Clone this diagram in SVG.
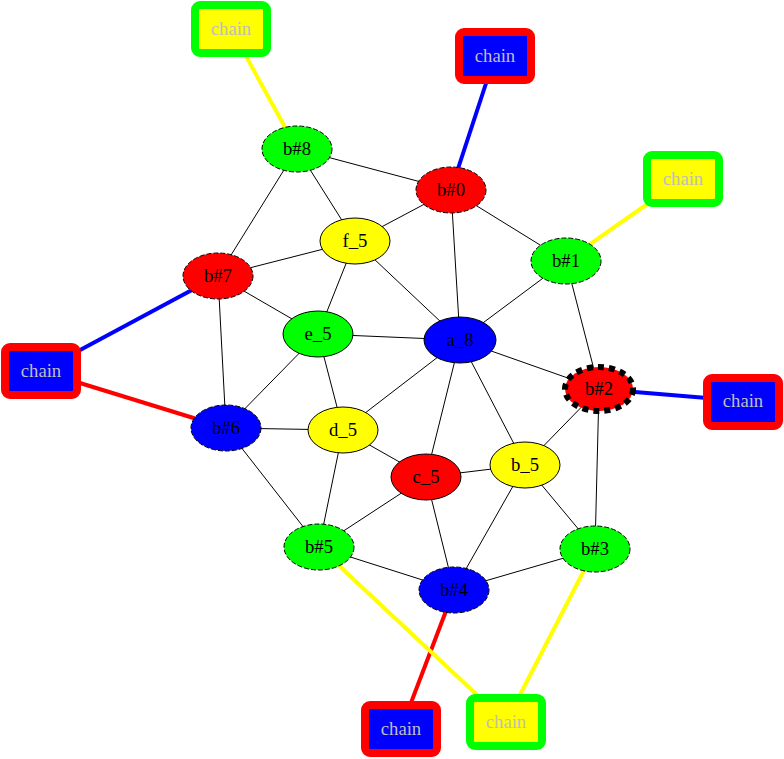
<svg xmlns="http://www.w3.org/2000/svg" width="784" height="759" viewBox="0 0 784 759">
<style>
.e{stroke:#000;stroke-width:1;fill:none}
.n ellipse{stroke:#000;stroke-width:1}
.d ellipse{stroke-dasharray:5,2}
.n text{font-family:"Liberation Serif",serif;font-size:18.67px;text-anchor:middle;fill:#000}
.c rect{stroke-width:8}
.c text{font-family:"Liberation Serif",serif;font-size:18.67px;text-anchor:middle;fill:#bebebe}
.cy{stroke:#ffff00;stroke-width:4;fill:none}
.cb{stroke:#0000ff;stroke-width:4;fill:none}
.cr{stroke:#ff0000;stroke-width:4;fill:none}
</style>
<rect width="784" height="759" fill="#fff"/>
<g id="connectors">
<line class="cy" x1="231" y1="29" x2="297" y2="149"/>
<line class="cb" x1="495" y1="56" x2="451" y2="190"/>
<line class="cy" x1="683" y1="179" x2="566" y2="261"/>
<line class="cb" x1="41" y1="371" x2="218" y2="276"/>
<line class="cr" x1="41" y1="371" x2="226" y2="428"/>
<line class="cb" x1="743" y1="401" x2="599" y2="389"/>
<line class="cr" x1="401" y1="729" x2="454" y2="590"/>
<line class="cy" x1="506" y1="722" x2="319" y2="547"/>
<line class="cy" x1="506" y1="722" x2="595" y2="549"/>
<line class="e" x1="297" y1="149" x2="451" y2="190"/>
<line class="e" x1="297" y1="149" x2="355" y2="241"/>
<line class="e" x1="297" y1="149" x2="218" y2="276"/>
<line class="e" x1="451" y1="190" x2="355" y2="241"/>
<line class="e" x1="451" y1="190" x2="566" y2="261"/>
<line class="e" x1="451" y1="190" x2="460" y2="340"/>
<line class="e" x1="355" y1="241" x2="218" y2="276"/>
<line class="e" x1="355" y1="241" x2="318" y2="334"/>
<line class="e" x1="355" y1="241" x2="460" y2="340"/>
<line class="e" x1="566" y1="261" x2="460" y2="340"/>
<line class="e" x1="566" y1="261" x2="599" y2="389"/>
<line class="e" x1="218" y1="276" x2="318" y2="334"/>
<line class="e" x1="218" y1="276" x2="226" y2="428"/>
<line class="e" x1="318" y1="334" x2="460" y2="340"/>
<line class="e" x1="318" y1="334" x2="226" y2="428"/>
<line class="e" x1="318" y1="334" x2="343" y2="430"/>
<line class="e" x1="460" y1="340" x2="599" y2="389"/>
<line class="e" x1="460" y1="340" x2="343" y2="430"/>
<line class="e" x1="460" y1="340" x2="426" y2="477"/>
<line class="e" x1="460" y1="340" x2="525" y2="465"/>
<line class="e" x1="599" y1="389" x2="525" y2="465"/>
<line class="e" x1="599" y1="389" x2="595" y2="549"/>
<line class="e" x1="226" y1="428" x2="343" y2="430"/>
<line class="e" x1="226" y1="428" x2="319" y2="547"/>
<line class="e" x1="343" y1="430" x2="426" y2="477"/>
<line class="e" x1="343" y1="430" x2="319" y2="547"/>
<line class="e" x1="426" y1="477" x2="525" y2="465"/>
<line class="e" x1="426" y1="477" x2="319" y2="547"/>
<line class="e" x1="426" y1="477" x2="454" y2="590"/>
<line class="e" x1="525" y1="465" x2="454" y2="590"/>
<line class="e" x1="525" y1="465" x2="595" y2="549"/>
<line class="e" x1="319" y1="547" x2="454" y2="590"/>
<line class="e" x1="595" y1="549" x2="454" y2="590"/>
</g>
<g id="chain1" class="c"><rect x="195" y="5" width="72" height="48" rx="5" fill="#ffff00" stroke="#00ff00"/><text x="231" y="35">chain</text></g>
<g id="chain2" class="c"><rect x="459" y="32" width="72" height="48" rx="5" fill="#0000ff" stroke="#ff0000"/><text x="495" y="62">chain</text></g>
<g id="chain3" class="c"><rect x="647" y="155" width="72" height="48" rx="5" fill="#ffff00" stroke="#00ff00"/><text x="683" y="185">chain</text></g>
<g id="chain4" class="c"><rect x="5" y="347" width="72" height="48" rx="5" fill="#0000ff" stroke="#ff0000"/><text x="41" y="377">chain</text></g>
<g id="chain5" class="c"><rect x="707" y="378" width="72" height="48" rx="5" fill="#0000ff" stroke="#ff0000"/><text x="743" y="407">chain</text></g>
<g id="chain6" class="c"><rect x="365" y="705" width="72" height="48" rx="5" fill="#0000ff" stroke="#ff0000"/><text x="401" y="735">chain</text></g>
<g id="chain7" class="c"><rect x="470" y="698" width="72" height="48" rx="5" fill="#ffff00" stroke="#00ff00"/><text x="506" y="728">chain</text></g>
<g id="b8" class="n d"><ellipse cx="297" cy="149" rx="35" ry="23" fill="#00ff00"/><text x="297" y="155">b#8</text></g>
<g id="b0" class="n d"><ellipse cx="451" cy="190" rx="35" ry="23" fill="#ff0000"/><text x="451" y="196">b#0</text></g>
<g id="f5" class="n"><ellipse cx="355" cy="241" rx="35" ry="23" fill="#ffff00"/><text x="355" y="247">f_5</text></g>
<g id="b1" class="n d"><ellipse cx="566" cy="261" rx="35" ry="23" fill="#00ff00"/><text x="566" y="267">b#1</text></g>
<g id="b7" class="n d"><ellipse cx="218" cy="276" rx="35" ry="23" fill="#ff0000"/><text x="218" y="282">b#7</text></g>
<g id="e5" class="n"><ellipse cx="318" cy="334" rx="35" ry="23" fill="#00ff00"/><text x="318" y="340">e_5</text></g>
<g id="a8" class="n"><ellipse cx="460" cy="340" rx="36" ry="23" fill="#0000ff"/><text x="460" y="346">a_8</text></g>
<g id="b2" class="n"><ellipse cx="599" cy="389" rx="34" ry="22" fill="#ff0000" style="stroke-width:6;stroke-dasharray:6,5"/><text x="599" y="395">b#2</text></g>
<g id="b6" class="n d"><ellipse cx="226" cy="428" rx="35" ry="23" fill="#0000ff"/><text x="226" y="434">b#6</text></g>
<g id="d5" class="n"><ellipse cx="343" cy="430" rx="35" ry="23" fill="#ffff00"/><text x="343" y="436">d_5</text></g>
<g id="c5" class="n"><ellipse cx="426" cy="477" rx="35" ry="23" fill="#ff0000"/><text x="426" y="483">c_5</text></g>
<g id="b_5" class="n"><ellipse cx="525" cy="465" rx="35" ry="23" fill="#ffff00"/><text x="525" y="471">b_5</text></g>
<g id="b5" class="n d"><ellipse cx="319" cy="547" rx="35" ry="23" fill="#00ff00"/><text x="319" y="553">b#5</text></g>
<g id="b3" class="n d"><ellipse cx="595" cy="549" rx="35" ry="23" fill="#00ff00"/><text x="595" y="555">b#3</text></g>
<g id="b4" class="n d"><ellipse cx="454" cy="590" rx="35" ry="23" fill="#0000ff"/><text x="454" y="596">b#4</text></g>
</svg>
